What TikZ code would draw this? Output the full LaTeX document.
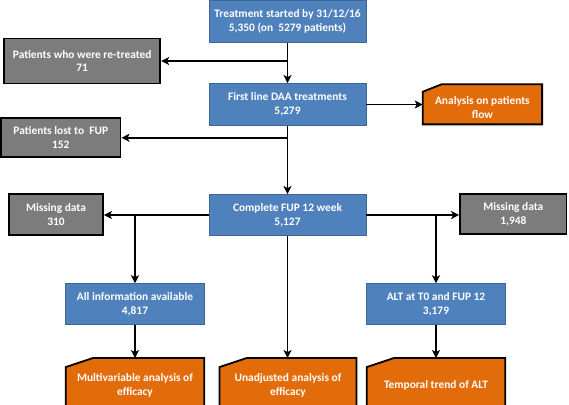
\documentclass[tikz,border=0pt]{standalone}
\usepackage{fontspec}
\setmainfont{Carlito}
\usetikzlibrary{arrows.meta,backgrounds}
\definecolor{boxblue}{HTML}{4F81BD}
\definecolor{blueline}{HTML}{3C6696}
\definecolor{boxgray}{HTML}{7C7C7C}
\definecolor{boxorange}{HTML}{E36C0A}
\tikzset{
  every node/.style={font=\fontsize{11.4}{13.8}\selectfont\bfseries, text=white, align=center, inner sep=0pt},
  bluebox/.style={fill=boxblue, draw=blueline, line width=0.9pt},
  graybox/.style={fill=boxgray, draw=black, line width=1.8pt},
  orangetxt/.style={draw=none},
  orangeshape/.style={fill=boxorange, draw=black, line width=1.8pt, line join=miter},
  arr/.style={draw=black, line width=1.8pt, -{Stealth[length=8pt,width=8pt,inset=2pt]}},
}
\begin{document}
\begin{tikzpicture}[x=1pt,y=-1pt]
\useasboundingbox (0,0) rectangle (569,404);
% blue boxes
\node[bluebox, minimum width=157pt, minimum height=42pt] (top) at (287.5,21.5) {Treatment started by 31/12/16\\5,350 (on \ 5279 patients)};
\node[bluebox, minimum width=157pt, minimum height=42pt] (daa) at (287.5,104.5) {First line DAA treatments\\5,279};
\node[bluebox, minimum width=157pt, minimum height=41pt] (fup) at (287.5,215) {Complete FUP 12 week\\5,127};
\node[bluebox, minimum width=139pt, minimum height=41pt] (allinfo) at (135,304.2) {All information available\\4,817};
\node[bluebox, minimum width=139pt, minimum height=41pt] (alt) at (436,304.2) {ALT at T0 and FUP 12\\3,179};
% gray boxes
\node[graybox, minimum width=156pt, minimum height=45pt] (retreat) at (82.2,61) {Patients who were re-treated\\71};
\node[graybox, minimum width=119.5pt, minimum height=39pt] (lost) at (60.8,137.8) {Patients lost to \ FUP\\152};
\node[graybox, minimum width=94pt, minimum height=41pt] (miss1) at (56,214.5) {Missing data\\310};
\node[graybox, minimum width=106.5pt, minimum height=40pt] (miss2) at (513.3,214.3) {Missing data\\1,948};
% orange boxes: text nodes placed at the text centre; shapes drawn behind, shifted up by 3.5pt
\node[orangetxt, minimum width=119pt, minimum height=39.7pt] (analysis) at (482.4,107.8) {Analysis on patients\\flow};
\node[orangetxt, minimum width=138pt, minimum height=47.7pt] (multi) at (135,385.6) {Multivariable analysis of\\efficacy};
\node[orangetxt, minimum width=136.6pt, minimum height=47.7pt] (unadj) at (288,385.6) {Unadjusted analysis of\\efficacy};
\node[orangetxt, minimum width=138pt, minimum height=47.7pt] (temporal) at (436,385.6) {Temporal trend of ALT};
\begin{scope}[on background layer]
\foreach \n/\cx/\cy in {analysis/19/7.5, multi/27/9, unadj/27/9, temporal/27/9}{
  \draw[orangeshape] ([yshift=3.5pt-\cy pt]\n.north west) -- ([xshift=\cx pt,yshift=3.5pt]\n.north west) -- ([yshift=3.5pt]\n.north east) -- ([yshift=3.5pt]\n.south east) -- ([yshift=3.5pt]\n.south west) -- cycle;
}
\end{scope}
% connectors
\draw[arr] (top.south) -- (daa.north);
\draw[arr] (top.south |- retreat.east) -- (retreat.east);
\draw[arr] (daa.east) -- (daa.east -| analysis.west);
\draw[arr] (daa.south) -- (fup.north);
\draw[arr] (daa.south |- lost.east) -- (lost.east);
\draw[arr] (fup.west) -- (fup.west -| miss1.east);
\draw[arr] (fup.east) -- (fup.east -| miss2.west);
\draw[arr] (allinfo.north |- fup.west) -- (allinfo.north);
\draw[arr] (alt.north |- fup.east) -- (alt.north);
\draw[arr] (fup.south) -- ([yshift=3.5pt]unadj.north -| fup.south);
\draw[arr] (allinfo.south) -- ([yshift=3.5pt]multi.north -| allinfo.south);
\draw[arr] (alt.south) -- ([yshift=3.5pt]temporal.north -| alt.south);
\end{tikzpicture}
\end{document}
